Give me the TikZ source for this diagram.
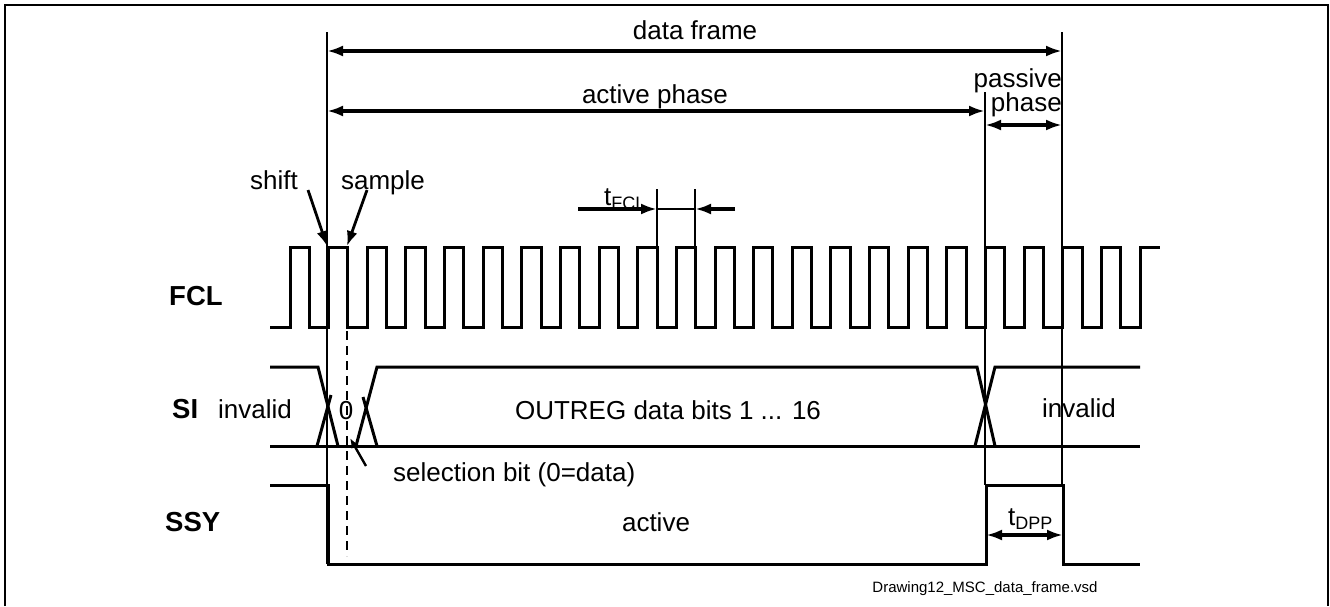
\documentclass[tikz,border=0pt]{standalone}
\usepackage{fontspec}
\setmainfont{Liberation Sans}
\usetikzlibrary{arrows.meta}
\begin{document}
\begin{tikzpicture}[x=1pt,y=-1pt,
  wave/.style={line width=3pt},
  thinline/.style={line width=1.4pt},
  dimarrow/.style={line width=3.2pt,-{Latex[length=16pt,width=11pt]}},
  dimboth/.style={line width=3.2pt,{Latex[length=16pt,width=11pt]}-{Latex[length=16pt,width=11pt]}},
  ptr/.style={line width=2.8pt,-{Latex[length=15pt,width=11pt]}},
  lbl/.style={font=\fontsize{26}{30}\selectfont,inner sep=0pt},
  sig/.style={font=\fontsize{27.5}{30}\selectfont\bfseries,inner sep=0pt},
  small/.style={font=\fontsize{15}{18}\selectfont,inner sep=0pt}]
\useasboundingbox (0,0) rectangle (1330,606);
\draw[line width=1.5pt] (5,606) -- (5,5) -- (1328,5) -- (1328,606);

% reference coordinates
\coordinate (L) at (327,32);
\coordinate (Lb) at (327,564);
\coordinate (R) at (1062,32);
\coordinate (Rb) at (1062,485);
\coordinate (A) at (985,92);
\coordinate (Ab) at (985,485);

% vertical guide lines
\draw[thinline] (L) -- (Lb);
\draw[thinline] (R) -- (Rb);
\draw[thinline] (A) -- (Ab);

% data frame / active phase / passive phase
\coordinate (df1) at (327,51);
\coordinate (df2) at (1062,51);
\draw[dimboth] (df1) -- (df2);
\node[lbl,anchor=base] (tdf) at (695,39) {data frame};
\coordinate (ap1) at (327,111);
\coordinate (ap2) at (985,111);
\draw[dimboth] (ap1) -- (ap2);
\node[lbl,anchor=base] (tap) at (655,103) {active phase};
\coordinate (pp1) at (985,125);
\coordinate (pp2) at (1062,125);
\draw[dimboth] (pp1) -- (pp2);
\node[lbl,anchor=base east] (tpp1) at (1062,87) {passive};
\node[lbl,anchor=base east] (tpp2) at (1062,111) {phase};

% FCL clock
\draw[wave] (270,327)
  \foreach \k in {0,...,21}{ -- ({290+\k*38.64},327) -- ({290+\k*38.64},247) -- ({309.3+\k*38.64},247) -- ({309.3+\k*38.64},327) }
  -- (1140,327) -- (1140,247) -- (1160,247);
\node[sig,anchor=base west] (fcl) at (169,305) {FCL};

% shift / sample
\node[lbl,anchor=base] (tshift) at (274,189) {shift};
\node[lbl,anchor=base] (tsample) at (383,189) {sample};
\coordinate (sh0) at (308,190);
\coordinate (sh1) at (327,246);
\coordinate (sa0) at (367,190);
\coordinate (sa1) at (347,246);
\draw[ptr] (sh0) -- (sh1);
\draw[ptr] (sa0) -- (sa1);

% tFCL
\coordinate (f1) at (657,189);
\coordinate (f1b) at (657,247);
\coordinate (f2) at (695,189);
\coordinate (f2b) at (695,247);
\draw[thinline] (f1) -- (f1b);
\draw[thinline] (f2) -- (f2b);
\draw[thinline] (f1 |- 0,209) -- (f2 |- 0,209);
\coordinate (fa0) at (578,209);
\coordinate (fa1) at (657,209);
\coordinate (fb0) at (735,209);
\coordinate (fb1) at (695,209);
\draw[dimarrow] (fa0) -- (fa1);
\draw[dimarrow] (fb0) -- (fb1);
\node[lbl,anchor=base west] (tfcl) at (604,205) {t\raisebox{-0.3ex}{\fontsize{18}{20}\selectfont FCL}};

% dashed sample line
\draw[line width=2pt,dash pattern=on 9pt off 6pt] (347,331) -- (347,556);

% SI
\draw[wave] (270,367) -- (318,367) -- (338,446);
\draw[wave] (317,446) -- (331,395);
\draw[wave] (270,446) -- (1140,446);
\draw[wave] (356,446) -- (377,367) -- (977,367) -- (995,446);
\draw[wave] (363,397) -- (377,446);
\draw[wave] (975,446) -- (995,367) -- (1140,367);
\node[sig,anchor=base west] (si) at (172,418) {SI};
\node[lbl,anchor=base west] (inv1) at (218,418) {invalid};
\node[lbl,anchor=base] (zero) at (346,419) {0};
\node[lbl,anchor=base] (outreg) at (668,419) {OUTREG data bits 1 ... 16};
\node[lbl,anchor=base west] (inv2) at (1042,417) {invalid};

% selection bit
\coordinate (sb0) at (366,466);
\coordinate (sb1) at (350,438);
\draw[line width=2.4pt,-{Latex[length=10pt,width=8pt]}] (sb0) -- (sb1);
\node[lbl,anchor=base west] (tsel) at (393,481) {selection bit (0=data)};

% SSY
\draw[wave] (270,485) -- (328,485) -- (328,564) -- (986,564) -- (986,485) -- (1063,485) -- (1063,564) -- (1140,564);
\node[sig,anchor=base west] (ssy) at (165,531) {SSY};
\node[lbl,anchor=base] (tact) at (656,531) {active};
\coordinate (d1) at (986,535);
\coordinate (d2) at (1063,535);
\draw[dimboth] (d1) -- (d2);
\node[lbl,anchor=base west] (tdpp) at (1008,525) {t\raisebox{-0.3ex}{\fontsize{18}{20}\selectfont DPP}};

\node[small,anchor=base] (fname) at (985,592) {Drawing12\_MSC\_data\_frame.vsd};
\end{tikzpicture}
\end{document}
